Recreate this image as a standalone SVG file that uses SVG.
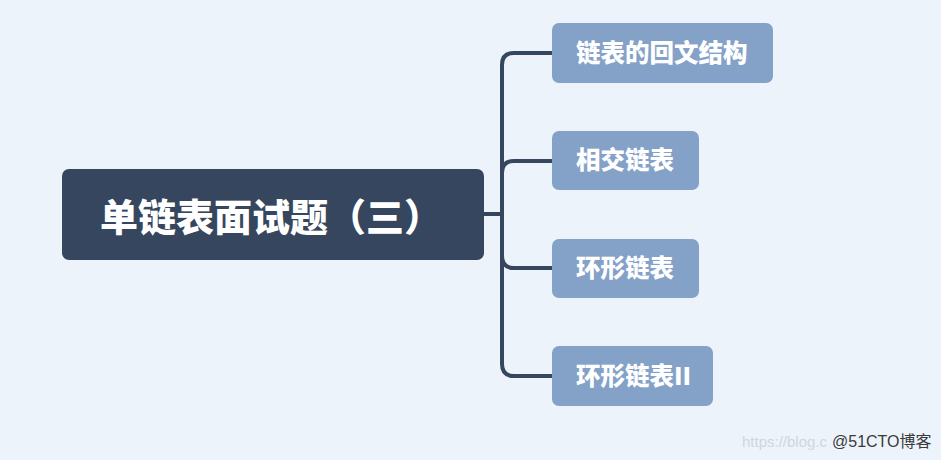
<svg xmlns="http://www.w3.org/2000/svg" width="941" height="460" viewBox="0 0 941 460">
<style>
.bg{fill:#ECF3FA}
.root rect{fill:#35465E}
.root text{fill:#FFFFFF;font-family:"Noto Sans CJK SC","Noto Sans",sans-serif;font-weight:900;font-size:38px}
.child rect{fill:#84A1C8}
.child text{fill:#FFFFFF;font-family:"Noto Sans CJK SC","Noto Sans",sans-serif;font-weight:900;font-size:24.5px}
.conn path{fill:none;stroke:#35465E;stroke-width:4;stroke-linecap:round}
.wm1{fill:#D2D6DC;font-family:"Liberation Sans",sans-serif;font-size:15px}
.wm2{fill:#3A3A3A;font-family:"Liberation Sans","Noto Sans CJK SC",sans-serif;font-size:16px}
</style>
<rect class="bg" x="0" y="0" width="941" height="460"/>
<g class="conn">
<path d="M484 214 H502"/>
<path d="M552 53 H514 Q502 53 502 65 V364 Q502 376 514 376 H552"/>
<path d="M552 161 H514 Q502 161 502 173"/>
<path d="M552 268 H514 Q502 268 502 256"/>
</g>
<g id="root" class="root">
<rect x="62" y="169" width="422" height="91" rx="7"/>
<text x="100" y="231">单链表面试题（三）</text>
</g>
<g id="n1" class="child">
<rect x="552" y="23" width="221" height="60" rx="7"/>
<text x="576" y="62">链表的回文结构</text>
</g>
<g id="n2" class="child">
<rect x="552" y="131" width="147" height="59" rx="7"/>
<text x="576" y="169">相交链表</text>
</g>
<g id="n3" class="child">
<rect x="552" y="239" width="147" height="59" rx="7"/>
<text x="576" y="277">环形链表</text>
</g>
<g id="n4" class="child">
<rect x="552" y="346" width="161" height="60" rx="7"/>
<text x="576" y="385">环形链表II</text>
</g>
<text class="wm1" x="742" y="447">https://blog.c</text>
<text class="wm2" x="832" y="447">@51CTO博客</text>
</svg>
